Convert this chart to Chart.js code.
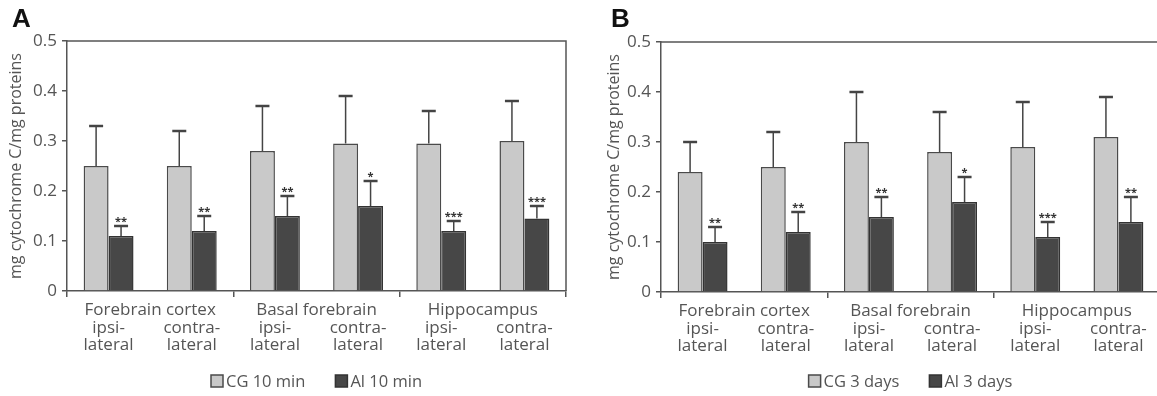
<!DOCTYPE html>
<html lang="en">
<head>
    <meta charset="UTF-8">
    <title>Cytochrome C</title>
    <script src="https://cdn.jsdelivr.net/npm/chart.js"></script>
    <style>
        body {
            margin: 0;
            width: 1157px;
            height: 396px;
            overflow: hidden;
            background: #fff;
            position: relative;
        }
        .panel {
            position: absolute;
            top: 0;
        }
        .letter {
            position: absolute;
            top: 3px;
            font: bold 26px "Liberation Sans", Arial, sans-serif;
            color: #111;
        }
    </style>
</head>
<body>

<div class="panel" style="left:0"><canvas id="chartA" width="580" height="396"></canvas></div>
<div class="panel" style="left:594px"><canvas id="chartB" width="580" height="396"></canvas></div>
<div class="letter" style="left:12px">A</div>
<div class="letter" style="left:611px">B</div>

<script>
    // regions (group labels) and sides (category labels)
    const groups = ['Forebrain cortex', 'Basal forebrain', 'Hippocampus'];
    const categories = [
        ['ipsi-', 'lateral'], ['contra-', 'lateral'],
        ['ipsi-', 'lateral'], ['contra-', 'lateral'],
        ['ipsi-', 'lateral'], ['contra-', 'lateral']
    ];
    const yTickLabels = ['0', '0.1', '0.2', '0.3', '0.4', '0.5'];
    const yTitle = 'mg cytochrome C/mg proteins';

    // panel A - 10 min
    const cgA = [0.25, 0.25, 0.28, 0.295, 0.295, 0.30];
    const cgErrA = [0.08, 0.07, 0.09, 0.095, 0.065, 0.08];
    const alA = [0.11, 0.12, 0.15, 0.17, 0.12, 0.145];
    const alErrA = [0.02, 0.03, 0.04, 0.05, 0.02, 0.025];
    const starsA = ['**', '**', '**', '*', '***', '***'];

    // panel B - 3 days
    const cgB = [0.24, 0.25, 0.30, 0.28, 0.29, 0.31];
    const cgErrB = [0.06, 0.07, 0.10, 0.08, 0.09, 0.08];
    const alB = [0.10, 0.12, 0.15, 0.18, 0.11, 0.14];
    const alErrB = [0.03, 0.04, 0.04, 0.05, 0.03, 0.05];
    const starsB = ['**', '**', '**', '*', '***', '**'];

    const ink = '#555';
    Chart.defaults.font.family = "'Open Sans', sans-serif";
    Chart.defaults.color = ink;

    // error bars (upper only) + significance stars
    const errorBars = {
        id: 'errorBars',
        afterDatasetsDraw(chart) {
            const ctx = chart.ctx;
            const y = chart.scales.y;
            chart.data.datasets.forEach((ds, i) => {
                chart.getDatasetMeta(i).data.forEach((bar, j) => {
                    const top = y.getPixelForValue(ds.data[j] + ds.errors[j]);
                    ctx.save();
                    ctx.strokeStyle = '#444';
                    ctx.lineWidth = 1.5;
                    ctx.beginPath();
                    ctx.moveTo(bar.x, bar.y);
                    ctx.lineTo(bar.x, top);
                    ctx.stroke();
                    ctx.lineWidth = 2.5;
                    ctx.beginPath();
                    ctx.moveTo(bar.x - 7, top);
                    ctx.lineTo(bar.x + 7, top);
                    ctx.stroke();
                    if (ds.stars) {
                        ctx.fillStyle = '#333';
                        ctx.font = "bold 11px 'Open Sans'";
                        ctx.textAlign = 'center';
                        ctx.textBaseline = 'alphabetic';
                        ctx.fillText(ds.stars[j], bar.x, top - 1);
                    }
                    ctx.restore();
                });
            });
        }
    };

    // top and right edges of the plot box
    const frame = {
        id: 'frame',
        afterDraw(chart) {
            const {ctx, chartArea: a} = chart;
            ctx.save();
            ctx.strokeStyle = ink;
            ctx.lineWidth = 1.5;
            ctx.beginPath();
            ctx.moveTo(a.left, a.top);
            ctx.lineTo(a.right, a.top);
            ctx.lineTo(a.right, a.bottom);
            ctx.stroke();
            ctx.restore();
        }
    };

    // legend centred under the plot
    const legendBelow = {
        id: 'legendBelow',
        afterDraw(chart, args, opts) {
            const ctx = chart.ctx;
            const box = 12, gapText = 3, gapItem = 30;
            ctx.save();
            ctx.font = "16.5px 'Open Sans'";
            const items = chart.data.datasets.map(ds => ({
                text: ds.label, fill: ds.backgroundColor, stroke: ds.borderColor,
                w: ctx.measureText(ds.label).width
            }));
            const total = items.reduce((s, it) => s + box + gapText + it.w, 0) + gapItem * (items.length - 1);
            let x = (chart.chartArea.left + chart.chartArea.right) / 2 - total / 2;
            const yc = opts.y;
            items.forEach(it => {
                ctx.fillStyle = it.fill;
                ctx.fillRect(x, yc - box / 2, box, box);
                ctx.strokeStyle = it.stroke;
                ctx.lineWidth = 1.5;
                ctx.strokeRect(x, yc - box / 2, box, box);
                ctx.fillStyle = ink;
                ctx.textBaseline = 'middle';
                ctx.fillText(it.text, x + box + gapText, yc + 1);
                x += box + gapText + it.w + gapItem;
            });
            ctx.restore();
        }
    };

    function makeChart(id, p) {
        return new Chart(document.getElementById(id), {
            type: 'bar',
            data: {
                labels: categories,
                datasets: [{
                    label: p.labels[0],
                    data: p.cg,
                    errors: p.cgErr,
                    backgroundColor: '#c9c9c9',
                    borderColor: '#4a4a4a',
                    borderWidth: 1.5
                }, {
                    label: p.labels[1],
                    data: p.al,
                    errors: p.alErr,
                    stars: p.stars,
                    backgroundColor: '#474747',
                    borderColor: '#333',
                    borderWidth: 1.5
                }]
            },
            options: {
                responsive: false,
                animation: false,
                devicePixelRatio: 1,
                categoryPercentage: 0.6,
                barPercentage: 1.0,
                layout: { padding: { left: 0, top: p.top, right: 14, bottom: 0 } },
                plugins: {
                    legend: { display: false },
                    tooltip: { enabled: false },
                    legendBelow: { y: 381 }
                },
                scales: {
                    x: {
                        weight: 1,
                        grid: { display: false, drawTicks: false },
                        border: { display: false },
                        ticks: {
                            padding: 0,
                            maxRotation: 0,
                            autoSkip: false,
                            font: { size: 17, lineHeight: 1.04 }
                        },
                        afterFit: s => { s.height = p.xHeight; }
                    },
                    x2: {
                        type: 'category',
                        axis: 'x',
                        position: 'bottom',
                        weight: 0,
                        labels: groups,
                        offset: true,
                        grid: {
                            offset: true,
                            drawOnChartArea: false,
                            tickLength: 6,
                            color: ink,
                            lineWidth: 1.5
                        },
                        border: { color: ink, width: 1.5 },
                        ticks: {
                            padding: 4,
                            maxRotation: 0,
                            autoSkip: false,
                            font: { size: 17, lineHeight: 1.04 }
                        },
                        afterFit: s => { s.height = 28; }
                    },
                    y: {
                        min: 0,
                        max: 0.5,
                        grid: {
                            drawOnChartArea: false,
                            tickLength: 5,
                            color: ink,
                            lineWidth: 1.5
                        },
                        border: { color: ink, width: 1.5 },
                        ticks: {
                            stepSize: 0.1,
                            padding: 5,
                            font: { size: 17 },
                            callback: (v, i) => yTickLabels[i]
                        },
                        title: {
                            display: true,
                            text: yTitle,
                            font: { size: 16 },
                            padding: { top: p.titlePad, bottom: 0 }
                        },
                        afterFit: s => { s.width = 67; }
                    }
                }
            },
            plugins: [errorBars, frame, legendBelow]
        });
    }

    makeChart('chartA', {
        labels: ['CG 10 min', 'Al 10 min'],
        cg: cgA, cgErr: cgErrA, al: alA, alErr: alErrA, stars: starsA,
        top: 41, xHeight: 77, titlePad: 7
    });

    makeChart('chartB', {
        labels: ['CG 3 days', 'Al 3 days'],
        cg: cgB, cgErr: cgErrB, al: alB, alErr: alErrB, stars: starsB,
        top: 42, xHeight: 76, titlePad: 11
    });
</script>

</body>
</html>
